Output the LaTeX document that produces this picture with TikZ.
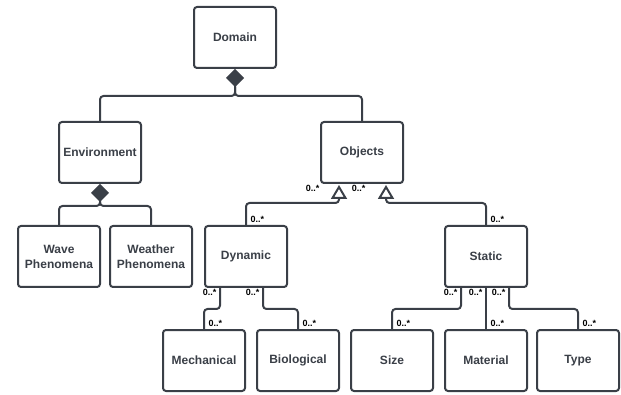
\documentclass[tikz,border=0pt]{standalone}
\usepackage{fontspec}
\setmainfont{Liberation Sans}
\usetikzlibrary{arrows.meta}
\definecolor{ink}{HTML}{3A3F47}
\begin{document}
\begin{tikzpicture}[x=1pt,y=-1pt,
  box/.style={draw=ink, line width=2pt, rounded corners=3pt, fill=white,
    minimum width=82pt, minimum height=61pt, inner sep=0pt, align=center,
    text=ink, font=\bfseries\fontsize{12}{15}\selectfont},
  link/.style={draw=ink, line width=2pt, rounded corners=3.5pt},
  comp/.style={link, {Diamond[length=18pt,width=18pt,line width=0pt,fill=ink]}-},
  hollow/.style={draw=ink, line width=2pt, fill=white, line join=miter},
  mult/.style={inner sep=0.5pt, text=black, font=\bfseries\fontsize{9}{9}\selectfont}]
\useasboundingbox (0,0) rectangle (621,395);

% classes
\node[box] (dom)  at (235,37.5)  {Domain};
\node[box] (env)  at (100,152.5) {Environment};
\node[box] (obj)  at (362,152.5) {Objects};
\node[box] (wave) at (59,256.5)  {Wave\\Phenomena};
\node[box] (wea)  at (151,256.5) {Weather\\Phenomena};
\node[box] (dyn)  at (246,256.5) {Dynamic};
\node[box] (sta)  at (486,256.5) {Static};
\node[box] (mech) at (204,360.5) {Mechanical};
\node[box] (bio)  at (298,360.5) {Biological};
\node[box] (size) at (392,360.5) {Size};
\node[box] (mat)  at (486,360.5) {Material};
\node[box] (type) at (578,360.5) {Type};

% composition
\draw[comp] (dom.south) -- ++(0,27) -| (env.north);
\draw[link] (dom.south) ++(0,18) -- ++(0,9) -| (obj.north);
\draw[comp] (env.south) -- ++(0,22) -| (wave.north);
\draw[link] (env.south) ++(0,18) -- ++(0,4) -| (wea.north);

% generalisation: lines up to hollow triangles under Objects
\coordinate (g1) at ([xshift=-23pt,yshift=-3pt]obj.south);
\coordinate (g2) at ([xshift=24pt,yshift=-3pt]obj.south);
\draw[link] (dyn.north) -- ++(0,-22) -| ([yshift=-11pt]g1);
\draw[link] (sta.north) -- ++(0,-22) -| ([yshift=-11pt]g2);
\draw[hollow] (g1) -- ++(-6.5,11) -- ++(13,0) -- cycle;
\draw[hollow] (g2) -- ++(-6.5,11) -- ++(13,0) -- cycle;

% associations
\draw[link] ([xshift=-26pt]dyn.south) -- ++(0,21) -| (mech.north);
\draw[link] ([xshift=17pt]dyn.south) -- ++(0,21) -| (bio.north);
\draw[link] ([xshift=-25pt]sta.south) -- ++(0,21) -| (size.north);
\draw[link] (sta.south) -- (mat.north);
\draw[link] ([xshift=23pt]sta.south) -- ++(0,21) -| (type.north);

% multiplicities
\node[mult, anchor=north east] (m1) at ([xshift=-42pt,yshift=-1pt]obj.south) {0..*};
\node[mult, anchor=north east] (m2) at ([xshift=4pt,yshift=-1pt]obj.south) {0..*};
\node[mult, anchor=south west] (m3) at ([xshift=4pt,yshift=2pt]dyn.north) {0..*};
\node[mult, anchor=south west] (m4) at ([xshift=4pt,yshift=2pt]sta.north) {0..*};
\node[mult, anchor=north east] (m5) at ([xshift=-29pt,yshift=-1pt]dyn.south) {0..*};
\node[mult, anchor=north east] (m6) at ([xshift=14pt,yshift=-1pt]dyn.south) {0..*};
\node[mult, anchor=north east] (m7) at ([xshift=-28pt,yshift=-1pt]sta.south) {0..*};
\node[mult, anchor=north east] (m8) at ([xshift=-3pt,yshift=-1pt]sta.south) {0..*};
\node[mult, anchor=north east] (m9) at ([xshift=20pt,yshift=-1pt]sta.south) {0..*};
\node[mult, anchor=south west] (m10) at ([xshift=4pt,yshift=2pt]mech.north) {0..*};
\node[mult, anchor=south west] (m11) at ([xshift=4pt,yshift=2pt]bio.north) {0..*};
\node[mult, anchor=south west] (m12) at ([xshift=4pt,yshift=2pt]size.north) {0..*};
\node[mult, anchor=south west] (m13) at ([xshift=4pt,yshift=2pt]mat.north) {0..*};
\node[mult, anchor=south west] (m14) at ([xshift=4pt,yshift=2pt]type.north) {0..*};
\end{tikzpicture}
\end{document}
